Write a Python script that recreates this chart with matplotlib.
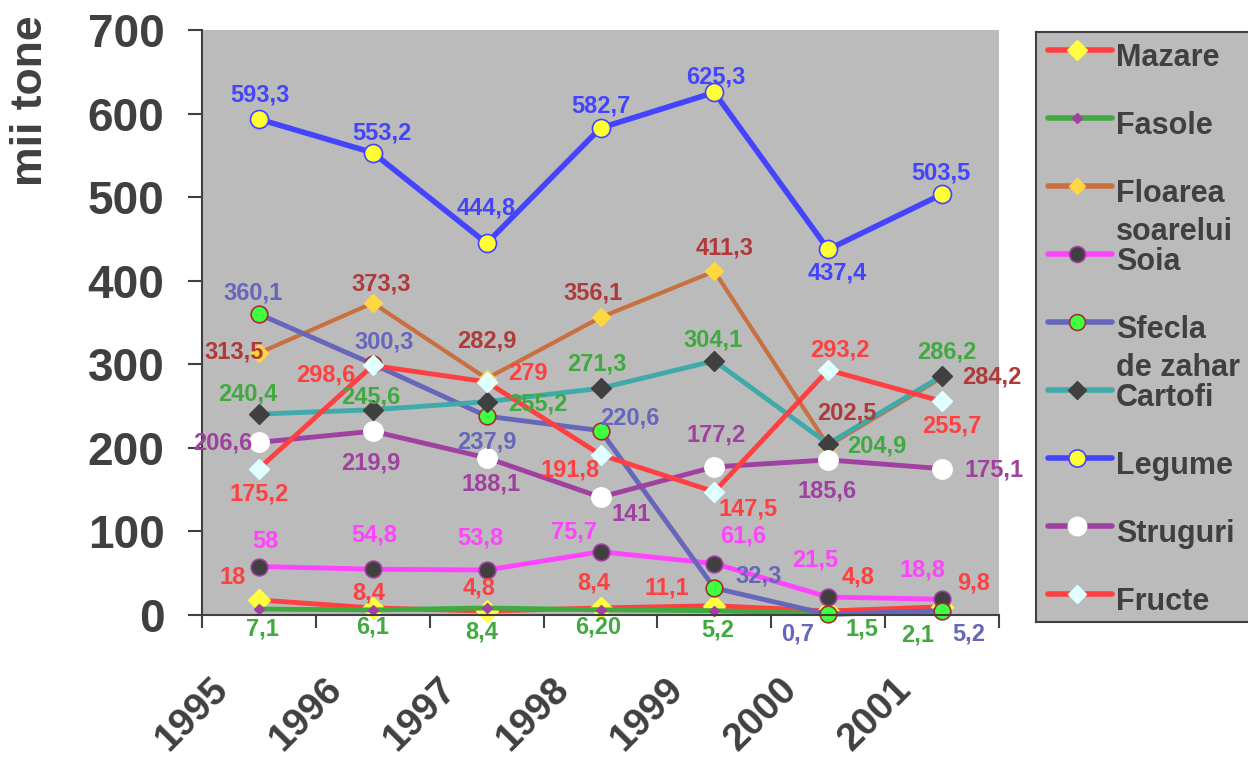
import matplotlib
matplotlib.use("Agg")
import matplotlib.pyplot as plt
import matplotlib.transforms as mtransforms

plt.rcParams['font.family'] = ['Liberation Sans', 'DejaVu Sans']
plt.rcParams['font.weight'] = 'bold'

# Data (mii tone)
years = ['1995', '1996', '1997', '1998', '1999', '2000', '2001']
mazare = [18, 8.4, 4.8, 8.4, 11.1, 4.8, 9.8]
fasole = [7.1, 6.1, 8.4, 6.2, 5.2, 1.5, 2.1]
fasole_text = ['7,1', '6,1', '8,4', '6,20', '5,2', '1,5', '2,1']
floarea = [313.5, 373.3, 282.9, 356.1, 411.3, 202.5, 284.2]
soia = [58, 54.8, 53.8, 75.7, 61.6, 21.5, 18.8]
sfecla = [360.1, 300.3, 237.9, 220.6, 32.3, 0.7, 5.2]
cartofi = [240.4, 245.6, 255.2, 271.3, 304.1, 204.9, 286.2]
legume = [593.3, 553.2, 444.8, 582.7, 625.3, 437.4, 503.5]
struguri = [206.6, 219.9, 188.1, 141, 177.2, 185.6, 175.1]
fructe = [175.2, 298.6, 279, 191.8, 147.5, 293.2, 255.7]

def fmt(v):
    return f"{v:g}".replace('.', ',')

TXT = '#404040'

# name, values, texts, line color, lw, marker, ms, face, edge, edge width, label color
series = [
    ('Mazare', mazare, None, '#FF4040', 3.5, 'D', 11, '#FFFF40', '#FFFF40', 1, '#FF4040'),
    ('Fasole', fasole, fasole_text, '#40AA40', 3.5, 'D', 5.5, '#A040A0', '#A040A0', 1, '#40AA40'),
    ('Floarea\nsoarelui', floarea, None, '#C87040', 3.0, 'D', 9, '#FFD740', '#FFD740', 1, '#B03A3A'),
    ('Soia', soia, None, '#FF44FF', 3.5, 'o', 12, '#404040', '#A040A0', 1.2, '#FF44FF'),
    ('Sfecla\nde zahar', sfecla, None, '#6666BB', 3.5, 'o', 12, '#40FF40', '#A03030', 1.2, '#6666BB'),
    ('Cartofi', cartofi, None, '#40AAAA', 3.5, 'D', 10, '#404040', '#404040', 1, '#40AA40'),
    ('Legume', legume, None, '#4444FF', 4.0, 'o', 13, '#FFFF33', '#4444FF', 1.2, '#4444FF'),
    ('Struguri', struguri, None, '#A040A0', 3.5, 'o', 14, '#FFFFFF', '#FFFFFF', 1, '#A040A0'),
    ('Fructe', fructe, None, '#FF4040', 3.5, 'D', 10, '#E0FFFF', '#E0FFFF', 1, '#FF4040'),
]

# label offsets in pixels (dx, dy up) relative to each point
offsets = {
    'Mazare': [(-26, 22), (-4, 15), (-8, 23), (-7, 25), (-47, 18), (30, 34), (31, 24)],
    'Fasole': [(4, -20), (0, -17), (-5, -24), (-2, -17), (3, -19), (34, -15), (-24, -22)],
    'Floarea\nsoarelui': [(-25, 1), (8, 19), (0, 38), (-7, 24), (10, 23), (19, 33), (50, 0)],
    'Soia': [(6, 25), (1, 34), (-6, 32), (-26, 20), (29, 28), (-13, 37), (-20, 29)],
    'Sfecla\nde zahar': [(-6, 21), (11, 22), (0, -26), (29, 13), (44, 12), (-31, -20), (27, -23)],
    'Cartofi': [(-11, 20), (-2, 13), (51, -2), (-4, 24), (-1, 21), (49, -2), (5, 24)],
    'Legume': [(1, 24), (9, 20), (0, 35), (0, 22), (1, 15), (9, -24), (-1, 21)],
    'Struguri': [(-36, -1), (-2, -32), (4, -26), (31, -17), (2, 32), (-1, -31), (52, -1)],
    'Fructe': [(0, -25), (-47, -10), (41, 8), (-30, -15), (34, -17), (12, 20), (10, -25)],
}

W, H = 1248, 760
fig = plt.figure(figsize=(W / 100, H / 100), dpi=100)
ax = fig.add_axes([202 / W, 1 - 615 / H, 797 / W, 585 / H])
ax.set_facecolor('#BBBBBB')

x = list(range(len(years)))
for name, vals, texts, lc, lw, mk, ms, mfc, mec, mew, tc in series:
    ax.plot(x, vals, color=lc, lw=lw, marker=mk, markersize=ms,
            markerfacecolor=mfc, markeredgecolor=mec, markeredgewidth=mew,
            solid_joinstyle='round', clip_on=False)

for name, vals, texts, lc, lw, mk, ms, mfc, mec, mew, tc in series:
    labels = texts if texts else [fmt(v) for v in vals]
    for i, (v, t) in enumerate(zip(vals, labels)):
        dx, dy = offsets[name][i]
        ax.annotate(t, (i, v), xytext=(dx, dy), textcoords='offset pixels',
                    ha='center', va='center', fontsize=17, fontweight='bold',
                    color=tc, zorder=10, annotation_clip=False)

ax.set_xlim(-0.5, 6.5)
ax.set_ylim(0, 700)
ax.set_yticks(range(0, 701, 100))
ax.tick_params(axis='y', length=10, width=1.5, color=TXT, pad=17,
               labelsize=33, labelcolor=TXT)
for lb in ax.get_yticklabels():
    lb.set_fontweight('bold')

# category boundaries as ticks, year labels drawn rotated below
ax.set_xticks([i - 0.5 for i in range(len(years) + 1)])
ax.set_xticklabels([])
ax.tick_params(axis='x', length=9.5, width=1.5, color=TXT)
year_tr = mtransforms.offset_copy(ax.get_xaxis_transform(), fig=fig,
                                  x=-67, y=-99, units='dots')
for i, yr in enumerate(years):
    ax.text(i, 0, yr, transform=year_tr, rotation=45, rotation_mode='anchor',
            ha='center', va='center', fontsize=28, fontweight='bold', color=TXT,
            clip_on=False)

for s in ['top', 'right']:
    ax.spines[s].set_visible(False)
for s in ['left', 'bottom']:
    ax.spines[s].set_color(TXT)
    ax.spines[s].set_linewidth(1.5)

fig.text(31 / W, 1 - 101 / H, 'mii tone', rotation=90, ha='center', va='center',
         fontsize=32, fontweight='bold', color=TXT)

# Legend drawn in its own axes (pixel coordinates)
lg = fig.add_axes([1036 / W, 1 - 622 / H, 220 / W, 590 / H])
lg.set_xlim(1036, 1256)
lg.set_ylim(622, 32)
lg.set_facecolor('#BBBBBB')
lg.set_xticks([])
lg.set_yticks([])
for s in lg.spines.values():
    s.set_color(TXT)
    s.set_linewidth(1.5)
for k, (name, vals, texts, lc, lw, mk, ms, mfc, mec, mew, tc) in enumerate(series):
    yy = 50 + 68 * k
    lg.plot([1048, 1112], [yy, yy], color=lc, lw=4, solid_capstyle='round')
    lg.plot([1077], [yy], marker=mk, markersize=ms * 0.95, markerfacecolor=mfc,
            markeredgecolor=mec, markeredgewidth=mew, linestyle='none')
    for j, line in enumerate(name.split('\n')):
        lg.text(1116, yy + 16 + 38 * j, line, ha='left', va='baseline',
                fontsize=22, fontweight='bold', color=TXT)

fig.savefig('out.png', dpi=100)
